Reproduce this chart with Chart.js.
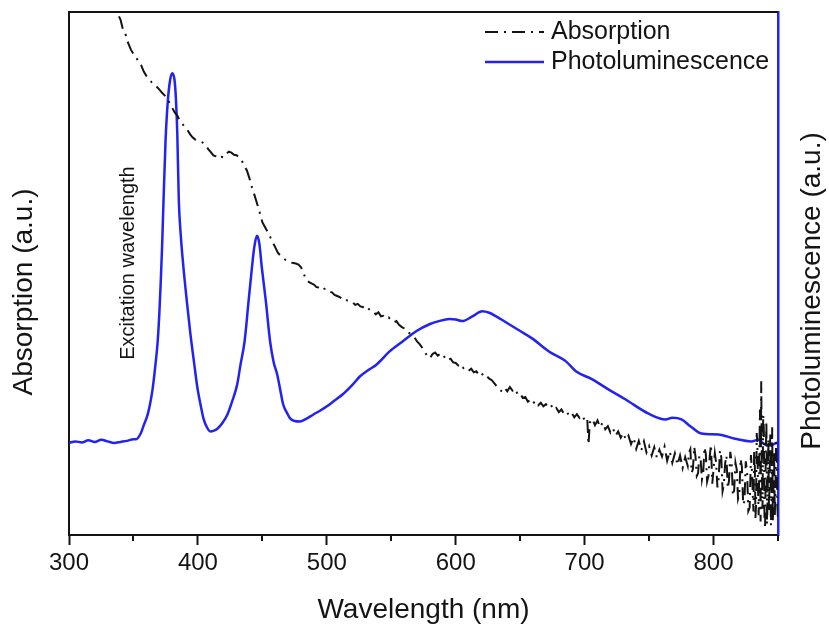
<!DOCTYPE html>
<html><head><meta charset="utf-8">
<script src="https://cdn.jsdelivr.net/npm/chart.js@4.4.0/dist/chart.umd.min.js"></script>
<style>html,body{margin:0;padding:0;background:#fff}#c{display:block}</style>
</head><body>
<canvas id="c" width="829" height="624"></canvas>
<script>
// Absorption (a.u.) vs wavelength (nm)
const absWl = [333,336,338,340,342,344,346,348,350,352,354,356,358,360,362,364,366,368,370,372,374,376,378,380,382,384,386,388,390,392,394,396,398,400,402,404,406,408,410,412,414,416,418,420,422,424,426,428,430,432,434,436,438,440,442,444,446,448,450,452,454,456,458,460,462,464,466,468,470,472,474,476,478,480,482,484,486,488,490,492,494,496,498,500,502,504,506,508,510,512,514,516,518,520,522,524,526,528,530,532,534,536,538,540,542,544,546,548,550,552,554,556,558,560,562,564,566,568,570,572,574,576,578,580,582,584,586,588,590,592,594,596,598,600,602,604,606,608,610,612,614,616,618,620,622,624,626,628,630,632,634,636,638,640,642,644,646,648,650,652,654,656,658,660,662,664,666,668,670,672,674,676,678,680,682,684,686,688,690,692,694,696,698,700,702,703,704,706,708,710,712,714,716,718,720,722,724,726,728,730,732,734,736,738,740,742,744,746,748,750,752,754,756,758,760,762,764,766,768,770,772,774,776,778,
  780,781,782,783,784,785,786,787,788,789,790,791,792,793,794,795,796,797,798,799,800,801,802,803,804,805,806,807,808,809,810,811,812,813,814,815,816,817,818,819,820,821,822,823,824,825,826,827,828,829,830,830.5,831,831.5,832,832.5,833,833.5,834,834.5,835,835.5,836,836.5,837,837.5,838,838.5,839,839.5,840,840.5,841,841.5,842,842.5,843,843.5,844,844.5,845,845.5,846,846.5,847,847.5,848,848.5,849,849.5,850];
const absVal = [104,100,99.6,98.5,96.5,95.6,94.0,92.8,92.0,91.4,90.4,89.8,88.6,87.8,87.2,86.6,86.1,85.7,85.2,84.6,84.1,83.6,82.6,81.7,80.8,80.2,79.2,78.6,78.0,77.4,76.6,76.0,75.6,75.4,75.2,75.0,74.5,73.8,73.2,72.6,72.4,72.0,72.3,72.2,72.9,73.3,73.1,72.7,72.6,72.2,71.6,70.6,69.7,68.2,66.4,64.9,63.3,61.6,59.8,58.9,58.0,57.0,56.0,55.0,54.0,53.4,53.0,52.6,52.4,52.1,52.0,51.9,51.7,51.2,50.0,48.8,48.4,48.1,47.9,47.4,47.3,47.6,47.1,47.0,46.5,46.4,45.9,45.7,45.5,45.1,45.3,44.8,44.7,44.5,44.0,44.2,43.7,43.6,43.1,43.4,42.8,42.7,42.2,42.6,41.8,41.9,41.4,41.6,41.1,40.7,40.9,40.2,39.8,39.5,38.9,38.6,38.2,37.8,37.0,36.5,35.8,35.0,34.2,33.8,34.6,34.9,34.3,34.6,33.9,34.2,33.5,33.7,33.0,32.9,32.4,32.7,31.9,32.0,31.4,31.8,31.1,31.3,30.6,31.0,30.2,30.4,29.9,29.6,29.0,28.4,27.8,27.4,28.1,27.5,28.3,27.6,28.0,26.9,27.1,26.2,26.4,25.5,25.9,25.2,25.6,24.8,25.3,24.6,25.0,24.4,24.8,23.9,24.3,23.5,24.0,23.2,23.6,22.8,23.3,22.5,23.1,22.4,22.9,22.0,22.4,17.3,21.5,22.2,21.0,21.9,20.6,21.5,20.2,20.8,19.6,20.4,19.0,19.8,18.6,19.5,18.2,19.0,17.4,18.6,16.5,18.0,16.2,17.9,15.8,17.0,15.2,16.8,14.8,16.3,15.0,16.9,14.2,16.0,13.8,15.6,13.4,15.2,12.8,14.9,
  13.2,15.8,16.4,11.9,12.6,16.9,15.0,11.3,11.8,15.2,14.4,10.6,12.0,16.8,15.5,10.2,11.2,14.9,17.3,9.8,12.5,15.6,13.8,9.1,10.8,16.2,14.9,8.4,9.6,13.7,15.2,8.9,10.4,15.9,14.0,7.5,8.6,13.8,12.5,6.9,7.8,14.6,13.0,5.8,6.5,14.1,12.1,4.6,5.2,15.3,11.4,7.2,4.5,16.0,13.8,3.2,6.0,19.5,17.5,8.8,3.8,14.6,24.0,2.6,29.4,12.2,5.0,23.0,20.5,3.4,1.2,15.0,21.7,2.0,8.0,18.4,4.4,11.0,19.2,1.8,6.5,20.6,2.5,9.2,16.0,3.6,8.3,17.8,14.0,5.5,3.0];

// Photoluminescence (a.u.) vs wavelength (nm)
const plWl = [300,305,310,315,320,325,330,335,340,345,350,352,355.6,358,361,363,364.9,366.8,368.8,370,371.1,372.2,373.2,374.9,376.7,378.4,380.1,381.9,383.0,384.0,385.2,386.8,388.8,391.5,394.2,397,399.7,402,404.3,407,409.7,412,415.1,419,422.8,426.5,430.5,433,436.2,439.3,441.9,443.7,445.8,447.6,449.6,452.7,456.0,458.8,461.5,464,466.1,469,471.5,475,479.2,484,489.3,495,500.1,506,512.4,520.2,525.6,532,538.7,548.7,558.8,569.6,579.6,587,595.1,600,605.1,612.9,620.6,626,631.4,641.4,650,659.2,672.3,685.5,693.2,705.6,718.7,731.8,749.6,762.7,768,775.1,782,790.5,803.7,816.8,829.2,834.6,840.0,844,847.7,850];
const plVal = [17.6,17.9,17.7,18.1,17.8,18.2,17.9,17.6,17.8,18.0,18.3,18.3,19.4,21.0,23.0,25.2,28.0,32.0,37.0,42.0,48.0,55.0,63.0,75.4,83.1,86.9,88.3,86.9,83.1,76.8,63.9,57.0,51.1,44.5,38.4,33.0,28.0,25.0,22.3,20.6,19.8,19.9,20.3,21.4,23.0,25.5,28.8,32.5,37.0,44.7,51.1,55.0,57.2,55.8,51.1,44.7,37.0,33.0,30.7,27.6,25.0,23.4,22.3,21.8,21.7,22.2,23.0,23.8,24.6,25.7,26.9,28.8,30.3,31.5,32.6,35.1,37.0,39.0,40.3,40.9,41.3,41.2,40.9,41.8,42.8,42.5,41.8,40.3,39.0,37.6,35.1,33.2,31.3,29.8,27.8,25.9,23.2,22.1,22.4,22.1,20.8,19.4,19.2,18.4,17.9,18.2,17.3,17.1,17.5,17.6];

const minorTicks = [350,450,550,650,750,850];

const FONT = '"Liberation Sans", Arial, sans-serif';
const INK = '#141414';
const BLUE = '#2222f2';
const ABS_DASH = [13,6,2,6];

const toXY = (xs, ys) => xs.map((x, i) => ({x: x, y: ys[i]}));

const decor = {
  id: 'decor',
  afterDraw(chart) {
    const ctx = chart.ctx;
    const a = chart.chartArea;
    const xs = chart.scales.x;
    ctx.save();
    ctx.strokeStyle = INK; ctx.lineWidth = 2; ctx.setLineDash([]);
    ctx.beginPath(); ctx.moveTo(a.left - 1, a.top); ctx.lineTo(a.right, a.top); ctx.stroke();
    minorTicks.forEach(v => {
      const px = Math.round(xs.getPixelForValue(v));
      ctx.beginPath(); ctx.moveTo(px, a.bottom); ctx.lineTo(px, a.bottom + 6); ctx.stroke();
    });
    ctx.lineWidth = 2;
    ctx.strokeStyle = INK; ctx.setLineDash(ABS_DASH);
    ctx.beginPath(); ctx.moveTo(485, 32); ctx.lineTo(544, 32); ctx.stroke();
    ctx.setLineDash([]);
    ctx.strokeStyle = BLUE; ctx.lineWidth = 2.5;
    ctx.beginPath(); ctx.moveTo(485, 62); ctx.lineTo(544, 62); ctx.stroke();
    ctx.fillStyle = INK;
    ctx.font = '25px ' + FONT;
    ctx.textAlign = 'left'; ctx.textBaseline = 'middle';
    ctx.fillText('Absorption', 551, 32);
    ctx.fillText('Photoluminescence', 551, 62);
    const rot = (text, x, y, size) => {
      ctx.save();
      ctx.translate(x, y); ctx.rotate(-Math.PI / 2);
      ctx.font = size + 'px ' + FONT;
      ctx.textAlign = 'center'; ctx.textBaseline = 'middle';
      ctx.fillText(text, 0, 0);
      ctx.restore();
    };
    rot('Excitation wavelength', 128, 263, 20);
    rot('Absorption (a.u.)', 24, 292, 28);
    rot('Photoluminescence (a.u.)', 812, 291, 28);
    ctx.restore();
  }
};

new Chart(document.getElementById('c').getContext('2d'), {
  type: 'line',
  data: {
    datasets: [
      {label: 'Absorption', data: toXY(absWl, absVal), yAxisID: 'y', borderColor: INK, borderWidth: 2,
       borderDash: ABS_DASH, pointRadius: 0, tension: 0, fill: false},
      {label: 'Photoluminescence', data: toXY(plWl, plVal), yAxisID: 'y1', borderColor: BLUE, borderWidth: 2.5,
       pointRadius: 0, cubicInterpolationMode: 'monotone', fill: false}
    ]
  },
  options: {
    responsive: false, animation: false, devicePixelRatio: 1,
    layout: {padding: {top: 12, left: 0, right: 0, bottom: 0}},
    plugins: {legend: {display: false}, tooltip: {enabled: false}},
    scales: {
      x: {
        type: 'linear', position: 'bottom', min: 300, max: 850,
        ticks: {stepSize: 100, includeBounds: false, color: INK, font: {family: FONT, size: 24}, padding: 4, maxRotation: 0, autoSkip: false},
        grid: {display: true, drawOnChartArea: false, drawTicks: true, tickLength: 10, tickWidth: 2, tickColor: INK},
        border: {display: true, color: INK, width: 2},
        title: {display: true, text: 'Wavelength (nm)', color: INK, font: {family: FONT, size: 28, lineHeight: 1.0}, padding: 0},
        afterFit: s => { s.height = 89; }
      },
      y: {
        type: 'linear', position: 'left', min: 0, max: 100,
        ticks: {display: false}, grid: {display: false},
        border: {display: true, color: INK, width: 2},
        afterFit: s => { s.width = 69; }
      },
      y1: {
        type: 'linear', position: 'right', min: 0, max: 100,
        ticks: {display: false}, grid: {display: false},
        border: {display: true, color: BLUE, width: 2.5},
        afterFit: s => { s.width = 51; }
      }
    }
  },
  plugins: [decor]
});
</script>
</body></html>
